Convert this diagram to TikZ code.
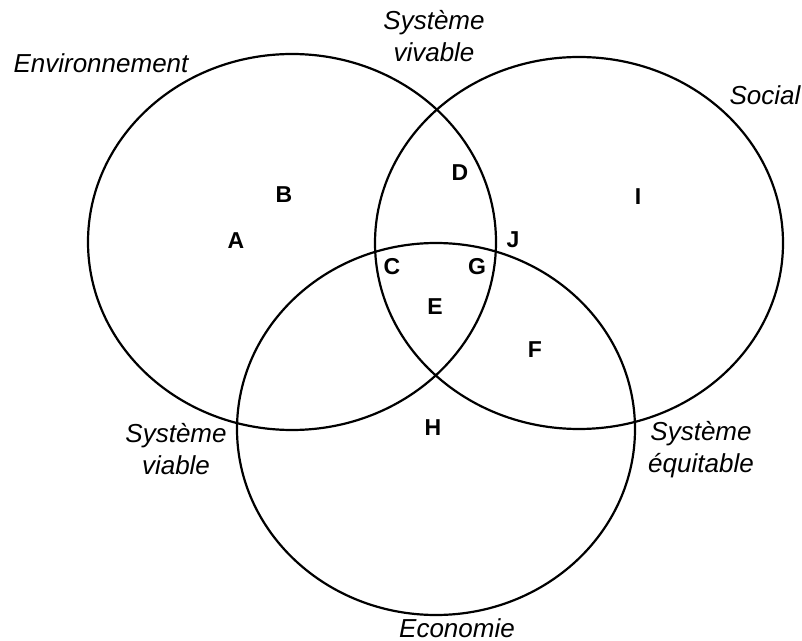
\documentclass[tikz,border=0pt]{standalone}
\usepackage{fontspec}
\setmainfont{Liberation Sans}

\begin{document}
\begin{tikzpicture}[
  zone/.style={font=\fontsize{11.5}{14}\selectfont\bfseries, inner sep=0pt},
  caption/.style={font=\fontsize{13}{16}\selectfont\itshape, align=center, inner sep=0pt},
  ring/.style={line width=1.1pt}]
\def\u{0.5pt}

\useasboundingbox (0, 0) rectangle (802*\u, -641*\u);

\draw [ring] (292*\u, -242*\u) ellipse [x radius=204*\u, y radius=188*\u];
\draw [ring] (579*\u, -243*\u) ellipse [x radius=204*\u, y radius=186*\u];
\draw [ring] (436*\u, -429*\u) ellipse [x radius=199*\u, y radius=186*\u];

\node (env) [caption] at (101*\u, -63.5*\u) {Environnement};
\node (soc) [caption] at (765*\u, -95.5*\u) {Social};
\node (eco) [caption] at (457*\u, -628.5*\u) {Economie};
\node (vivable) [caption] at (434*\u, -36.4*\u) {Système\\vivable};
\node (viable) [caption] at (176*\u, -449.4*\u) {Système\\viable};
\node (equitable) [caption] at (701*\u, -449.2*\u) {Système\\équitable};

\node (a) [zone] at (236*\u, -241*\u) {A};
\node (b) [zone] at (284*\u, -195*\u) {B};
\node (c) [zone] at (392*\u, -267*\u) {C};
\node (d) [zone] at (460*\u, -173*\u) {D};
\node (e) [zone] at (435*\u, -307*\u) {E};
\node (f) [zone] at (535*\u, -350*\u) {F};
\node (g) [zone] at (477*\u, -267*\u) {G};
\node (h) [zone] at (433*\u, -428*\u) {H};
\node (i) [zone] at (638*\u, -197*\u) {I};
\node (j) [zone] at (513*\u, -240*\u) {J};
\end{tikzpicture}
\end{document}
